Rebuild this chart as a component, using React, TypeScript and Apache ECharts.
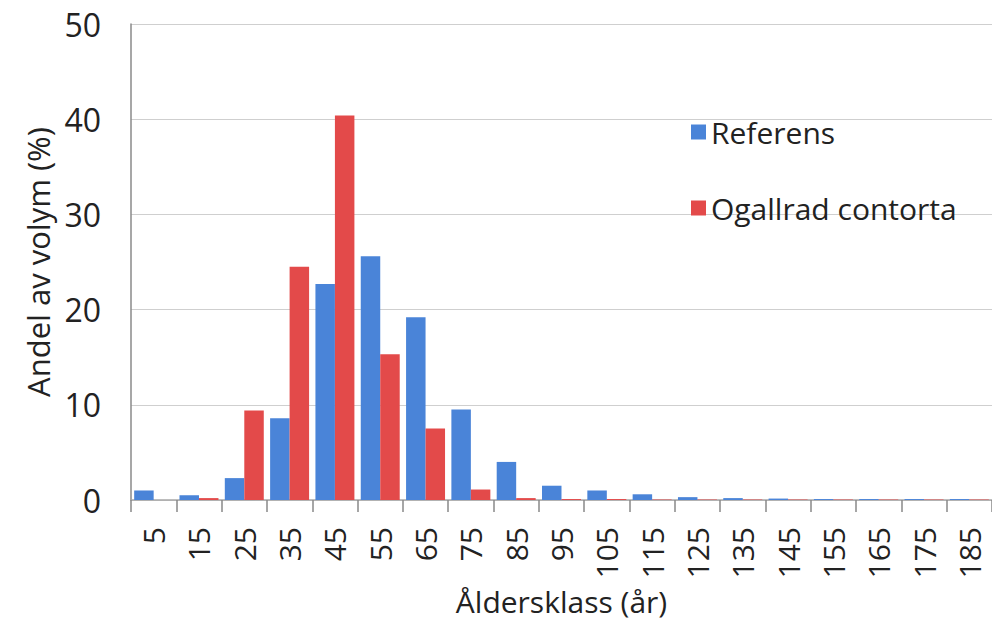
import React, { useEffect, useRef } from "react";
import * as echarts from "echarts";

const categories = ["5","15","25","35","45","55","65","75","85","95","105","115","125","135","145","155","165","175","185"];
const referens = [1.0, 0.5, 2.3, 8.6, 22.7, 25.6, 19.2, 9.5, 4.0, 1.5, 1.0, 0.6, 0.3, 0.2, 0.15, 0.1, 0.1, 0.1, 0.1];
const ogallrad = [0, 0.2, 9.4, 24.5, 40.4, 15.3, 7.5, 1.1, 0.2, 0.1, 0.1, 0.05, 0.05, 0.05, 0.05, 0.05, 0.05, 0.05, 0.05];
const yTicks = { min: 0, max: 50, interval: 10 };

const FONT = "'Open Sans', 'Noto Sans', sans-serif";

export default function App() {
  const ref = useRef<HTMLDivElement>(null);
  useEffect(() => {
    if (!ref.current) return;
    const chart = echarts.init(ref.current, null, { renderer: "svg" });
    chart.setOption({
      animation: false,
      backgroundColor: "#ffffff",
      textStyle: { fontFamily: FONT },
      grid: { left: 131, top: 24, width: 876, height: 476, containLabel: false },
      legend: {
        orient: "vertical",
        left: 686,
        top: 112,
        itemWidth: 15,
        itemHeight: 15,
        itemGap: 46,
        icon: "rect",
        textStyle: { fontSize: 30, color: "#222", fontFamily: FONT, padding: [0, 0, 0, 0] },
        data: ["Referens", "Ogallrad contorta"],
      },
      xAxis: {
        type: "category",
        data: categories,
        name: "Åldersklass (år)",
        nameLocation: "middle",
        nameGap: 84,
        nameTextStyle: { fontSize: 30, color: "#222", fontFamily: FONT },
        axisLine: { show: true, lineStyle: { color: "#a8a8a8", width: 1.5 } },
        axisTick: { show: true, length: 12, lineStyle: { color: "#888", width: 1.5 } },
        axisLabel: { rotate: 90, fontSize: 30, color: "#222", margin: 27, fontFamily: FONT },
      },
      yAxis: {
        type: "value",
        min: yTicks.min,
        max: yTicks.max,
        interval: yTicks.interval,
        name: "Andel av volym (%)",
        nameLocation: "middle",
        nameGap: 76,
        nameTextStyle: { fontSize: 31, color: "#222", fontFamily: FONT },
        axisLine: { show: true, lineStyle: { color: "#8a8a8a", width: 1.5 } },
        axisTick: { show: false },
        splitLine: { show: true, lineStyle: { color: "#cfcfcf", width: 1.2 } },
        axisLabel: { fontSize: 32, color: "#222", margin: 30, fontFamily: FONT },
      },
      series: [
        {
          name: "Referens",
          type: "bar",
          data: referens,
          itemStyle: { color: "#4a84d8" },
          barGap: "0%",
          barCategoryGap: "14%",
        },
        {
          name: "Ogallrad contorta",
          type: "bar",
          data: ogallrad,
          itemStyle: { color: "#e34a4a" },
          barGap: "0%",
          barCategoryGap: "14%",
        },
      ],
    });
    return () => chart.dispose();
  }, []);
  return (
    <div
      ref={ref}
      style={{ position: "absolute", left: 0, top: 0, width: 992, height: 624, background: "#fff" }}
    />
  );
}
